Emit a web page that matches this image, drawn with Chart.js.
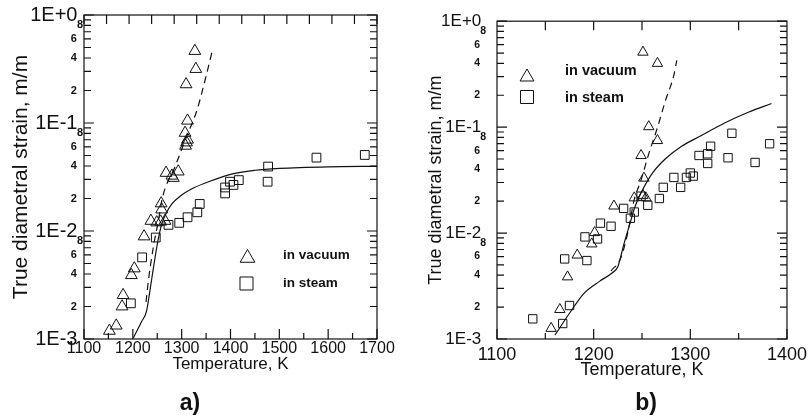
<!DOCTYPE html>
<html>
<head>
<meta charset="utf-8">
<script src="https://cdn.jsdelivr.net/npm/chart.js@4.4.1/dist/chart.umd.min.js"></script>
<style>
  html, body { margin: 0; padding: 0; background: #fff; }
  body { width: 812px; height: 417px; position: relative; overflow: hidden; }
  .panel { position: absolute; top: 0; height: 417px; }
  #wrapA { left: 0; width: 405px; }
  #wrapB { left: 405px; width: 407px; }
  .tag { position: absolute; font: bold 23px 'Liberation Sans', Arial, sans-serif; color: #111; transform: translate(-50%, -50%); }
</style>
</head>
<body>
<div class="panel" id="wrapA"><canvas id="chartA" width="405" height="417"></canvas></div>
<div class="panel" id="wrapB"><canvas id="chartB" width="407" height="417"></canvas></div>
<div class="tag" style="left:190px; top:402px;">a)</div>
<div class="tag" style="left:646px; top:402px;">b)</div>
<script>
const FONT = "'Liberation Sans', Arial, Helvetica, sans-serif";

// ---- panel a) data ----
const vacA_T = [1327, 1329, 1309, 1312, 1307, 1312, 1308, 1310, 1268, 1293, 1280, 1283, 1258, 1259, 1237, 1249, 1257, 1266, 1223, 1203, 1197, 1180, 1178, 1166, 1152];
const vacA_strain = [0.464, 0.316, 0.228, 0.105, 0.081, 0.070, 0.0615, 0.066, 0.0345, 0.0355, 0.0325, 0.031, 0.018, 0.0158, 0.0124, 0.012, 0.0122, 0.0124, 0.0089, 0.0045, 0.0039, 0.00255, 0.0020, 0.00133, 0.00119];

const steamA_T = [1675, 1576, 1477, 1476, 1417, 1406, 1399, 1389, 1389, 1337, 1332, 1312, 1295, 1273, 1247, 1219, 1196];
const steamA_strain = [0.0506, 0.0478, 0.0395, 0.0286, 0.0296, 0.0267, 0.0286, 0.0253, 0.0223, 0.0178, 0.0149, 0.0134, 0.0119, 0.0114, 0.0087, 0.0057, 0.00214];

const solidA_T = [1201, 1218, 1228, 1235, 1242, 1250, 1259, 1268, 1280, 1300, 1320, 1350, 1400, 1450, 1500, 1600, 1700];
const solidA_strain = [0.00102, 0.00145, 0.0018, 0.0028, 0.0045, 0.0075, 0.0115, 0.0145, 0.0178, 0.0215, 0.0245, 0.028, 0.0335, 0.0365, 0.038, 0.0393, 0.0397];

const dashA_T = [1227, 1232, 1242, 1252, 1261, 1286, 1310, 1331, 1348, 1363];
const dashA_strain = [0.0022, 0.0035, 0.0071, 0.0122, 0.0207, 0.039, 0.0747, 0.13, 0.25, 0.474];

// ---- panel b) data ----
const vacB_T = [1251, 1266, 1257, 1266, 1249, 1252, 1242, 1251, 1254, 1221, 1201, 1198, 1183, 1173, 1165, 1156];
const vacB_strain = [0.51, 0.40, 0.101, 0.0747, 0.054, 0.033, 0.0215, 0.0227, 0.0215, 0.018, 0.0101, 0.0079, 0.0062, 0.00386, 0.0019, 0.00126];

const steamB_T = [1137, 1168, 1175, 1170, 1193, 1191, 1204, 1207, 1218, 1231, 1238, 1242, 1249, 1256, 1268, 1272, 1290, 1283, 1296, 1300, 1303, 1309, 1318, 1321, 1318, 1339, 1343, 1367, 1382];
const steamB_strain = [0.00155, 0.0014, 0.00207, 0.0057, 0.0055, 0.0092, 0.0088, 0.0124, 0.0116, 0.0171, 0.0138, 0.0158, 0.0223, 0.0183, 0.0212, 0.027, 0.027, 0.0335, 0.0335, 0.0369, 0.0345, 0.054, 0.056, 0.066, 0.0454, 0.0514, 0.0875, 0.0464, 0.0697];

const solidB_T = [1160, 1175, 1190, 1206, 1219, 1225, 1231, 1237, 1243, 1250, 1261, 1274, 1291, 1310, 1336, 1360, 1384];
const solidB_strain = [0.00109, 0.00175, 0.0027, 0.0035, 0.0042, 0.0048, 0.0077, 0.0118, 0.018, 0.025, 0.037, 0.05, 0.066, 0.082, 0.11, 0.138, 0.167];

const dashB_T = [1218, 1228, 1235, 1242, 1249, 1257, 1266, 1274, 1283, 1286];
const dashB_strain = [0.0044, 0.0058, 0.0098, 0.0207, 0.0316, 0.056, 0.099, 0.175, 0.31, 0.427];

// ---- axes ----
const xTicksA = [1100, 1200, 1300, 1400, 1500, 1600, 1700];
const xMinorA = [1150, 1250, 1350, 1450, 1550, 1650];
const xTicksB = [1100, 1200, 1300, 1400];
const xMinorB = [1150, 1250, 1350];
const yDecades = [0.001, 0.01, 0.1, 1];
const yDecadeLabels = ['1E-3', '1E-2', '1E-1', '1E+0'];
const yMinorSteps = [2, 3, 4, 5, 6, 7, 8, 9];
const yMinorLabelled = [2, 4, 6, 8];

const xLabel = 'Temperature, K';
const yLabel = 'True diametral strain, m/m';
const legendNames = ['in vacuum', 'in steam'];

function pts(xs, ys) {
  return xs.map((x, i) => ({ x: x, y: ys[i] }));
}

function yTickValues() {
  const out = [];
  yDecades.forEach((d, i) => {
    out.push({ value: d, major: true });
    if (i < yDecades.length - 1) {
      yMinorSteps.forEach(m => out.push({ value: d * m, major: false }));
    }
  });
  return out;
}

function yTickLabel(value) {
  const exp = Math.floor(Math.log10(value) + 1e-9);
  const mant = Math.round(value / Math.pow(10, exp));
  if (mant === 1) {
    const k = yDecades.findIndex(d => Math.abs(Math.log10(d) - exp) < 1e-6);
    return yDecadeLabels[k] + ' ';
  }
  if (yMinorLabelled.includes(mant)) return mant === 8 ? '8' : mant + '  ';
  return '';
}

// frame + inward ticks on all four sides
const frameTicks = {
  id: 'frameTicks',
  afterDatasetsDraw(chart, args, o) {
    const { ctx, chartArea: a, scales: { x, y } } = chart;
    ctx.save();
    ctx.strokeStyle = '#111';
    ctx.lineWidth = 1.2;
    ctx.strokeRect(a.left, a.top, a.right - a.left, a.bottom - a.top);
    ctx.beginPath();
    const vtick = (v, yEdge, len) => {
      const px = x.getPixelForValue(v);
      ctx.moveTo(px, yEdge); ctx.lineTo(px, yEdge + len);
    };
    o.xMajor.forEach(v => vtick(v, a.bottom, -10));
    o.xMinor.forEach(v => vtick(v, a.bottom, -6));
    o.xTop.forEach(v => vtick(v, a.top, 9));
    yTickValues().forEach(t => {
      const py = y.getPixelForValue(t.value);
      const len = t.major ? 10 : 7;
      ctx.moveTo(a.left, py); ctx.lineTo(a.left + len, py);
      ctx.moveTo(a.right, py); ctx.lineTo(a.right - len, py);
    });
    ctx.stroke();
    ctx.restore();
  }
};

// hand-placed key box, as in the original figure
const keyBox = {
  id: 'keyBox',
  afterDraw(chart, args, o) {
    const ctx = chart.ctx;
    ctx.save();
    o.items.forEach(it => {
      ctx.strokeStyle = '#111';
      ctx.fillStyle = 'rgba(0,0,0,0)';
      ctx.lineWidth = 1;
      Chart.helpers.drawPoint(ctx, { pointStyle: it.style, radius: it.r, borderWidth: 1, rotation: 0 }, it.mx, it.my);
      ctx.fillStyle = '#111';
      ctx.font = o.font;
      ctx.textAlign = 'left';
      ctx.textBaseline = 'middle';
      ctx.fillText(it.text, it.tx, it.ty);
    });
    ctx.restore();
  }
};

function makePanel(id, p) {
  const markers = (data, style, r) => ({
    data: data,
    pointStyle: style,
    pointRadius: r,
    pointHoverRadius: r,
    pointBorderWidth: 1,
    pointBorderColor: '#111',
    pointBackgroundColor: 'rgba(0,0,0,0)',
    showLine: false
  });
  const curve = (data, dash) => ({
    data: data,
    showLine: true,
    pointRadius: 0,
    borderColor: '#111',
    borderWidth: 1.2,
    borderDash: dash,
    cubicInterpolationMode: 'monotone',
    fill: false
  });
  return new Chart(document.getElementById(id), {
    type: 'scatter',
    data: {
      datasets: [
        curve(p.solid, []),
        curve(p.dash, [7, 5]),
        markers(p.vac, 'triangle', p.triR),
        markers(p.steam, 'rect', p.sqR)
      ]
    },
    options: {
      responsive: false,
      animation: false,
      events: [],
      layout: { padding: { top: p.top, right: p.right, left: 0, bottom: 0 } },
      plugins: {
        legend: { display: false },
        tooltip: { enabled: false },
        frameTicks: { xMajor: p.xMajor, xMinor: p.xMinor, xTop: p.xTop },
        keyBox: p.key
      },
      scales: {
        x: {
          type: 'linear',
          min: p.xMajor[0],
          max: p.xMajor[p.xMajor.length - 1],
          afterBuildTicks: s => { s.ticks = p.xMajor.map(v => ({ value: v })); },
          afterFit: s => { s.height = 78; },
          grid: { display: false, drawTicks: false },
          border: { display: false },
          ticks: { autoSkip: false, maxRotation: 0, padding: p.xPad, color: '#111', font: { family: FONT, size: p.xFont }, callback: v => String(v) },
          title: { display: true, text: xLabel, color: '#111', font: { family: FONT, size: p.xTitleFont }, padding: { top: 0, bottom: p.xTitlePad } }
        },
        y: {
          type: 'logarithmic',
          min: 0.001,
          max: 1,
          afterBuildTicks: s => { s.ticks = yTickValues(); },
          afterFit: s => { s.width = p.yWidth; },
          grid: { display: false, drawTicks: false },
          border: { display: false },
          ticks: {
            autoSkip: false,
            padding: p.yPad,
            color: '#111',
            font: c => (c.tick && c.tick.major)
              ? { family: FONT, size: p.yMajorFont }
              : { family: FONT, size: p.yMinorFont, weight: 'bold' },
            callback: v => yTickLabel(v)
          },
          title: { display: true, text: yLabel, color: '#111', font: { family: FONT, size: p.yTitleFont }, padding: { top: p.yTitlePad, bottom: 0 } }
        }
      }
    },
    plugins: [frameTicks, keyBox]
  });
}

const topTicksA = Array.from({ length: 14 }, (_, i) => 1100 + i * 600 / 13);

makePanel('chartA', {
  vac: pts(vacA_T, vacA_strain),
  steam: pts(steamA_T, steamA_strain),
  solid: pts(solidA_T, solidA_strain),
  dash: pts(dashA_T, dashA_strain),
  triR: 6.8, sqR: 6.2,
  top: 15, right: 28, yWidth: 84,
  xMajor: xTicksA, xMinor: xMinorA, xTop: topTicksA,
  xFont: 16, xPad: 0, xTitleFont: 17, xTitlePad: 42,
  yMajorFont: 20, yMinorFont: 11, yPad: 1, yTitleFont: 21, yTitlePad: 9,
  key: {
    font: "bold 13.5px " + FONT,
    items: [
      { style: 'triangle', r: 8.5, mx: 247.5, my: 258, text: legendNames[0], tx: 283, ty: 255 },
      { style: 'rect', r: 9.2, mx: 246.5, my: 283.5, text: legendNames[1], tx: 283, ty: 283 }
    ]
  }
});

makePanel('chartB', {
  vac: pts(vacB_T, vacB_strain),
  steam: pts(steamB_T, steamB_strain),
  solid: pts(solidB_T, solidB_strain),
  dash: pts(dashB_T, dashB_strain),
  triR: 6, sqR: 5.9,
  top: 16, right: 23, yWidth: 92,
  xMajor: xTicksB, xMinor: xMinorB, xTop: xMinorB.concat([1200, 1300]),
  xFont: 18, xPad: 5, xTitleFont: 18, xTitlePad: 36,
  yMajorFont: 17, yMinorFont: 10.5, yPad: 11, yTitleFont: 18, yTitlePad: 20,
  key: {
    font: "bold 14.5px " + FONT,
    items: [
      { style: 'triangle', r: 8, mx: 122, my: 77, text: legendNames[0], tx: 160, ty: 71 },
      { style: 'rect', r: 9.2, mx: 122, my: 97, text: legendNames[1], tx: 160, ty: 98 }
    ]
  }
});
</script>
</body>
</html>
